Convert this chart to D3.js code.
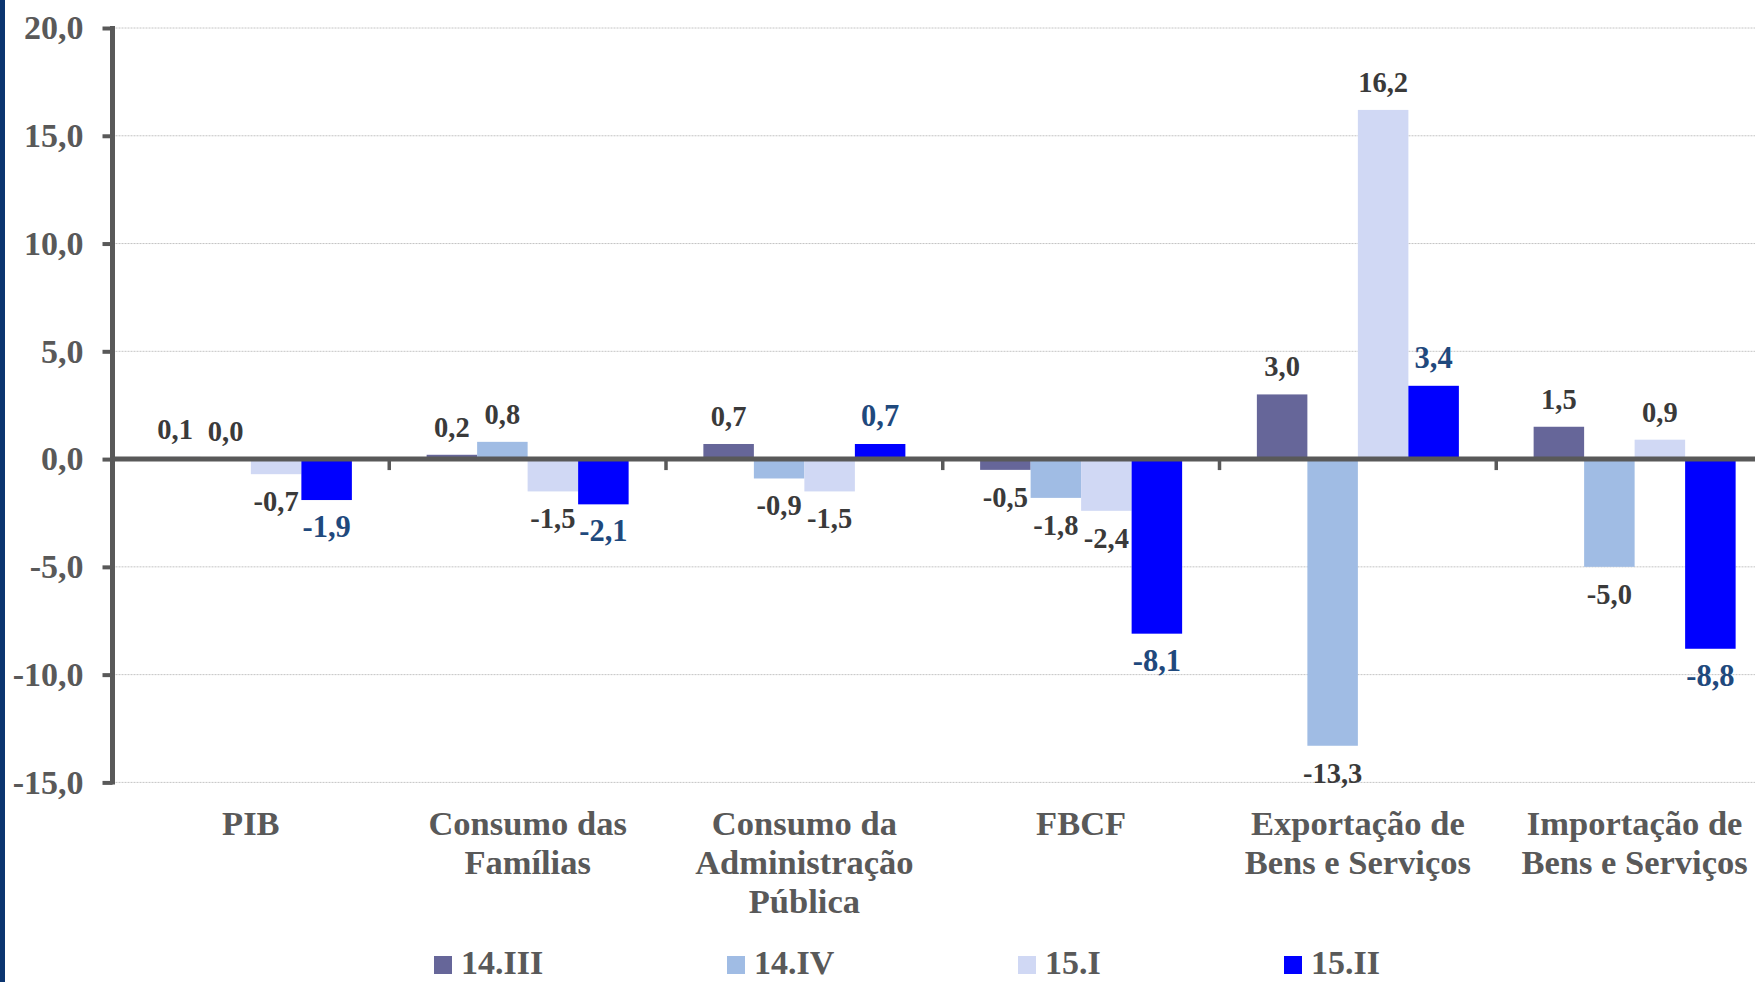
<!DOCTYPE html>
<html>
<head>
<meta charset="utf-8">
<script src="https://cdn.jsdelivr.net/npm/d3@7"></script>
<style>
  html, body { margin: 0; padding: 0; background: #ffffff; overflow: hidden; }
  svg { display: block; }
  text { font-family: "Liberation Serif", "Times New Roman", serif; font-weight: bold; }
</style>
</head>
<body>
<svg id="chart" width="1755" height="982"></svg>
<script>
// ---- Data ----
const categories = ["PIB", "Consumo das Famílias", "Consumo da Administração Pública", "FBCF", "Exportação de Bens e Serviços", "Importação de Bens e Serviços"];
const categoryLines = [["PIB"], ["Consumo das", "Famílias"], ["Consumo da", "Administração", "Pública"], ["FBCF"], ["Exportação de", "Bens e Serviços"], ["Importação de", "Bens e Serviços"]];
const seriesNames = ["14.III", "14.IV", "15.I", "15.II"];
const s14III = [0.1, 0.2, 0.7, -0.5, 3.0, 1.5];
const s14IV  = [0.0, 0.8, -0.9, -1.8, -13.3, -5.0];
const s15I   = [-0.7, -1.5, -1.5, -2.4, 16.2, 0.9];
const s15II  = [-1.9, -2.1, 0.7, -8.1, 3.4, -8.8];
const yTicks = [20, 15, 10, 5, 0, -5, -10, -15];
const yTickLabels = ["20,0", "15,0", "10,0", "5,0", "0,0", "-5,0", "-10,0", "-15,0"];

const seriesValues = [s14III, s14IV, s15I, s15II];
const colors = ["#666699", "#A0BCE4", "#D0D8F4", "#0000FF"];
const labelColors = ["#3a3a3a", "#3a3a3a", "#3a3a3a", "#1F497D"];
const labelSizes = [28.5, 28.5, 28.5, 30.5];

// ---- Layout ----
const svg = d3.select("#chart");
const W = 1755, H = 982;
const axisX = 112.5;
const catWidth = 276.75;
const y = d3.scaleLinear().domain([-15, 20]).range([782.4, 28]);
const x0 = d3.scaleBand().domain(categories).range([axisX, axisX + catWidth * categories.length]).padding(0);
const x1 = d3.scaleBand().domain(seriesNames).range([0, x0.bandwidth()]).paddingInner(0).paddingOuter(0.74);
const grey = "#595959";

// left border strip
svg.append("rect").attr("x", 0).attr("y", 0).attr("width", 5).attr("height", H).attr("fill", "#0b3570");

// gridlines
svg.append("g").selectAll("line").data(yTicks.filter(d => d !== 0)).join("line")
  .attr("x1", axisX).attr("x2", W)
  .attr("y1", d => y(d)).attr("y2", d => y(d))
  .attr("stroke", "#c4c4c4").attr("stroke-width", 1).attr("stroke-dasharray", "2,1");

// bars
const rows = [];
categories.forEach((c, i) => seriesNames.forEach((s, j) => rows.push({ cat: c, ser: s, j: j, v: seriesValues[j][i] })));

svg.append("g").selectAll("rect").data(rows).join("rect")
  .attr("x", d => x0(d.cat) + x1(d.ser))
  .attr("width", x1.bandwidth())
  .attr("y", d => Math.min(y(d.v), y(0)))
  .attr("height", d => Math.abs(y(d.v) - y(0)))
  .attr("fill", d => colors[d.j]);

// y axis
const yAxis = d3.axisLeft(y).tickValues(yTicks).tickSize(10).tickPadding(19)
  .tickFormat((d, i) => yTickLabels[i]);
const gy = svg.append("g").attr("transform", `translate(${axisX},0)`).call(yAxis);
gy.select(".domain").attr("stroke", grey).attr("stroke-width", 5).attr("d", `M0,${y(20) - 2}V${y(-15) + 2}`);
gy.selectAll(".tick line").attr("stroke", grey).attr("stroke-width", 4);
gy.selectAll(".tick text").attr("fill", grey).attr("font-size", 34)
  .attr("font-family", "'Liberation Serif', 'Times New Roman', serif").attr("font-weight", "bold");

// zero line
svg.append("line").attr("x1", axisX).attr("x2", W).attr("y1", y(0)).attr("y2", y(0))
  .attr("stroke", grey).attr("stroke-width", 5);

// category separator ticks
svg.append("g").selectAll("line").data(categories.slice(1)).join("line")
  .attr("x1", d => x0(d)).attr("x2", d => x0(d))
  .attr("y1", y(0)).attr("y2", y(0) + 11)
  .attr("stroke", grey).attr("stroke-width", 3.5);

// data labels
svg.append("g").selectAll("text").data(rows).join("text")
  .attr("x", d => x0(d.cat) + x1(d.ser) + x1.bandwidth() / 2)
  .attr("y", d => d.v >= 0 ? y(d.v) - 18 : y(d.v) + 37)
  .attr("text-anchor", "middle")
  .attr("font-size", d => labelSizes[d.j])
  .attr("fill", d => labelColors[d.j])
  .text(d => d.v.toFixed(1).replace(".", ","));

// category labels
const catG = svg.append("g");
categories.forEach((c, i) => {
  const t = catG.append("text")
    .attr("x", x0(c) + x0.bandwidth() / 2)
    .attr("y", 835)
    .attr("text-anchor", "middle")
    .attr("font-size", 34.5)
    .attr("fill", grey);
  categoryLines[i].forEach((line, k) => {
    t.append("tspan").attr("x", x0(c) + x0.bandwidth() / 2).attr("y", 835 + k * 39).text(line);
  });
});

// legend
const legendX = [434, 727, 1018, 1284];
const lg = svg.append("g");
seriesNames.forEach((s, j) => {
  lg.append("rect").attr("x", legendX[j]).attr("y", 956).attr("width", 18).attr("height", 18).attr("fill", colors[j]);
  lg.append("text").attr("x", legendX[j] + 27).attr("y", 974).attr("font-size", 34).attr("fill", grey).text(s);
});
</script>
</body>
</html>
